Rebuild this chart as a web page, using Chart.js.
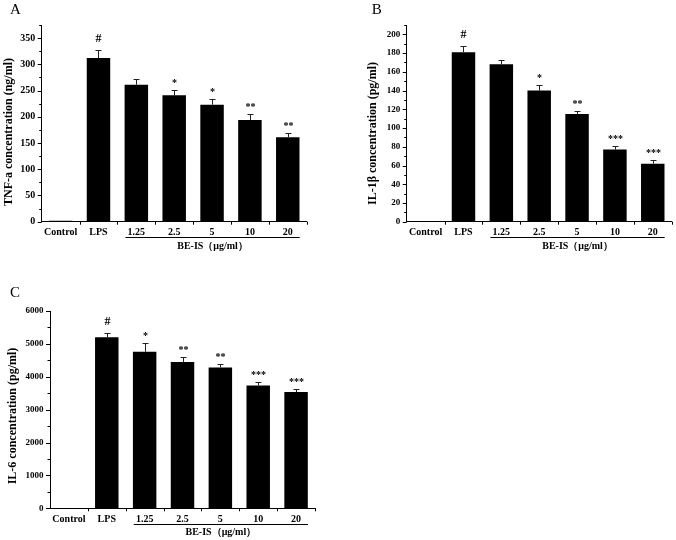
<!DOCTYPE html>
<html>
<head>
<meta charset="utf-8">
<script src="https://cdn.jsdelivr.net/npm/chart.js@4"></script>
<style>
  html, body { margin: 0; padding: 0; background: #fff; }
  #wrap { position: relative; width: 676px; height: 540px; overflow: hidden; }
  .panel { position: absolute; }
</style>
</head>
<body>
<div id="wrap">
  <div class="panel" style="left:0;top:0;width:338px;height:270px;"><canvas id="cA" width="338" height="270"></canvas></div>
  <div class="panel" style="left:338px;top:0;width:338px;height:270px;"><canvas id="cB" width="338" height="270"></canvas></div>
  <div class="panel" style="left:0;top:270px;width:338px;height:270px;"><canvas id="cC" width="338" height="270"></canvas></div>
</div>
<script>
// ---- data ----
const categories = ['Control', 'LPS', '1.25', '2.5', '5', '10', '20'];
const groupLabel = 'BE-IS（μg/ml）';

const tnfValues = [2, 312, 261, 241, 223, 194, 161];
const tnfErrors = [0, 16, 12, 11, 10, 11, 9];
const tnfMarks  = ['', '#', '', '*', '*', '**', '**'];
const tnfTitle  = 'TNF-a concentration (ng/ml)';
const tnfTicks  = [0, 50, 100, 150, 200, 250, 300, 350];

const il1bValues = [0, 181, 168, 140, 115, 77, 62];
const il1bErrors = [0, 7, 4.5, 5.5, 3.5, 4, 4];
const il1bMarks  = ['', '#', '', '*', '**', '***', '***'];
const il1bTitle  = 'IL-1β concentration (pg/ml)';
const il1bTicks  = [0, 20, 40, 60, 80, 100, 120, 140, 160, 180, 200];

const il6Values = [0, 5200, 4760, 4450, 4285, 3735, 3535];
const il6Errors = [0, 130, 265, 140, 90, 100, 90];
const il6Marks  = ['', '#', '*', '**', '**', '***', '***'];
const il6Title  = 'IL-6 concentration (pg/ml)';
const il6Ticks  = [0, 1000, 2000, 3000, 4000, 5000, 6000];

const tnfAxis  = { max: 375, step: 50, minor: 25 };
const il1bAxis = { max: 210, step: 20, minor: 10 };
const il6Axis  = { max: 6000, step: 1000, minor: 500 };

const SERIF = "'Liberation Serif', 'Times New Roman', serif";

function makePanel(canvasId, p) {
  const W = 338, H = 270;
  const extras = {
    id: 'extras' + canvasId,
    afterDraw(chart) {
      const ctx = chart.ctx;
      const x = chart.scales.x, y = chart.scales.y;
      const area = chart.chartArea;
      ctx.save();
      ctx.strokeStyle = '#000';
      ctx.fillStyle = '#000';
      ctx.lineWidth = 1;
      // y ticks (major + minor)
      for (let v = 0; v <= p.axis.max + 1e-9; v += p.axis.minor) {
        const py = Math.round(y.getPixelForValue(v)) + 0.5;
        const len = (Math.abs(v % p.axis.step) < 1e-9) ? 4 : 2.5;
        ctx.beginPath();
        ctx.moveTo(area.left - len, py);
        ctx.lineTo(area.left, py);
        ctx.stroke();
      }
      // x ticks at category boundaries
      const cw = (area.right - area.left) / categories.length;
      for (let i = 1; i <= categories.length; i++) {
        const px = Math.round(area.left + i * cw) + 0.5;
        ctx.beginPath();
        ctx.moveTo(px, area.bottom);
        ctx.lineTo(px, area.bottom + 3);
        ctx.stroke();
      }
      // error bars and significance marks
      ctx.strokeStyle = '#222';
      for (let i = 0; i < p.values.length; i++) {
        const px = Math.round(x.getPixelForValue(i)) + 0.5;
        const top = y.getPixelForValue(p.values[i] + p.errors[i]);
        if (p.errors[i] > 0) {
          const base = y.getPixelForValue(p.values[i]);
          ctx.beginPath();
          ctx.moveTo(px, base);
          ctx.lineTo(px, Math.round(top) + 0.5);
          ctx.moveTo(px - 3, Math.round(top) + 0.5);
          ctx.lineTo(px + 3, Math.round(top) + 0.5);
          ctx.stroke();
        }
        const m = p.marks[i];
        if (m) {
          ctx.textAlign = 'center';
          ctx.textBaseline = 'alphabetic';
          if (m === '#') {
            ctx.font = 'bold 12px ' + SERIF;
            ctx.fillText(m, px, top - 8);
          } else {
            ctx.font = 'bold 10px ' + SERIF;
            ctx.fillText(m, px, top - 4);
          }
        }
      }
      // underline for BE-IS group
      ctx.strokeStyle = '#000';
      const ux0 = area.left + 2 * cw + 8;
      const ux1 = area.right - 7;
      ctx.beginPath();
      ctx.moveTo(ux0, p.underlineY + 0.5);
      ctx.lineTo(ux1, p.underlineY + 0.5);
      ctx.stroke();
      ctx.font = 'bold 10px ' + SERIF;
      ctx.textAlign = 'center';
      ctx.textBaseline = 'middle';
      ctx.fillText(groupLabel, (ux0 + ux1) / 2, p.groupY);
      // y-axis title
      ctx.save();
      ctx.translate(p.titleX, p.titleY);
      ctx.rotate(-Math.PI / 2);
      ctx.font = 'bold 12px ' + SERIF;
      ctx.textAlign = 'center';
      ctx.textBaseline = 'middle';
      ctx.fillText(p.title, 0, 0);
      ctx.restore();
      // panel letter
      ctx.font = '15px ' + SERIF;
      ctx.textAlign = 'left';
      ctx.textBaseline = 'alphabetic';
      ctx.fillText(p.letter, p.letterX, p.letterY);
      ctx.restore();
    }
  };

  return new Chart(document.getElementById(canvasId), {
    type: 'bar',
    data: {
      labels: categories,
      datasets: [{
        data: p.values,
        backgroundColor: '#000',
        borderWidth: 0,
        barPercentage: 0.62,
        categoryPercentage: 1.0
      }]
    },
    options: {
      responsive: false,
      devicePixelRatio: 1,
      animation: false,
      events: [],
      layout: { padding: { left: 0, right: W - p.area.r, top: p.area.t, bottom: 0 } },
      plugins: { legend: { display: false }, tooltip: { enabled: false }, title: { display: false } },
      scales: {
        x: {
          offset: true,
          grid: { display: false, drawTicks: false },
          border: { display: true, color: '#000', width: 1 },
          ticks: { color: '#000', padding: 5, maxRotation: 0, autoSkip: false,
                   font: { family: SERIF, size: 10, weight: 'bold' } },
          afterFit(s) { s.height = H - p.area.b; }
        },
        y: {
          min: 0,
          max: p.axis.max,
          grid: { display: false, drawTicks: false },
          border: { display: true, color: '#000', width: 1 },
          ticks: { color: '#000', padding: 6.5, autoSkip: false,
                   font: { family: SERIF, size: p.tickFont, weight: 'bold' },
                   callback: (v) => String(v) },
          afterBuildTicks(s) {
            s.ticks = p.ticks.map(v => ({ value: v }));
          },
          afterFit(s) { s.width = p.area.l; }
        }
      }
    },
    plugins: [extras]
  });
}

makePanel('cA', {
  values: tnfValues, errors: tnfErrors, marks: tnfMarks, title: tnfTitle, axis: tnfAxis, ticks: tnfTicks,
  area: { l: 41.7, r: 306.7, t: 25, b: 221.7 }, tickFont: 10,
  titleX: 8.5, titleY: 132, letter: 'A', letterX: 10, letterY: 14,
  underlineY: 237, groupY: 246.7
});
makePanel('cB', {
  values: il1bValues, errors: il1bErrors, marks: il1bMarks, title: il1bTitle, axis: il1bAxis, ticks: il1bTicks,
  area: { l: 68.7, r: 333.7, t: 25, b: 221.7 }, tickFont: 9,
  titleX: 35.3, titleY: 133.5, letter: 'B', letterX: 33.7, letterY: 14,
  underlineY: 237, groupY: 246.7
});
makePanel('cC', {
  values: il6Values, errors: il6Errors, marks: il6Marks, title: il6Title, axis: il6Axis, ticks: il6Ticks,
  area: { l: 50, r: 315, t: 41, b: 238.3 }, tickFont: 9,
  titleX: 12.5, titleY: 146, letter: 'C', letterX: 10, letterY: 27,
  underlineY: 254, groupY: 262.3
});
</script>
</body>
</html>
